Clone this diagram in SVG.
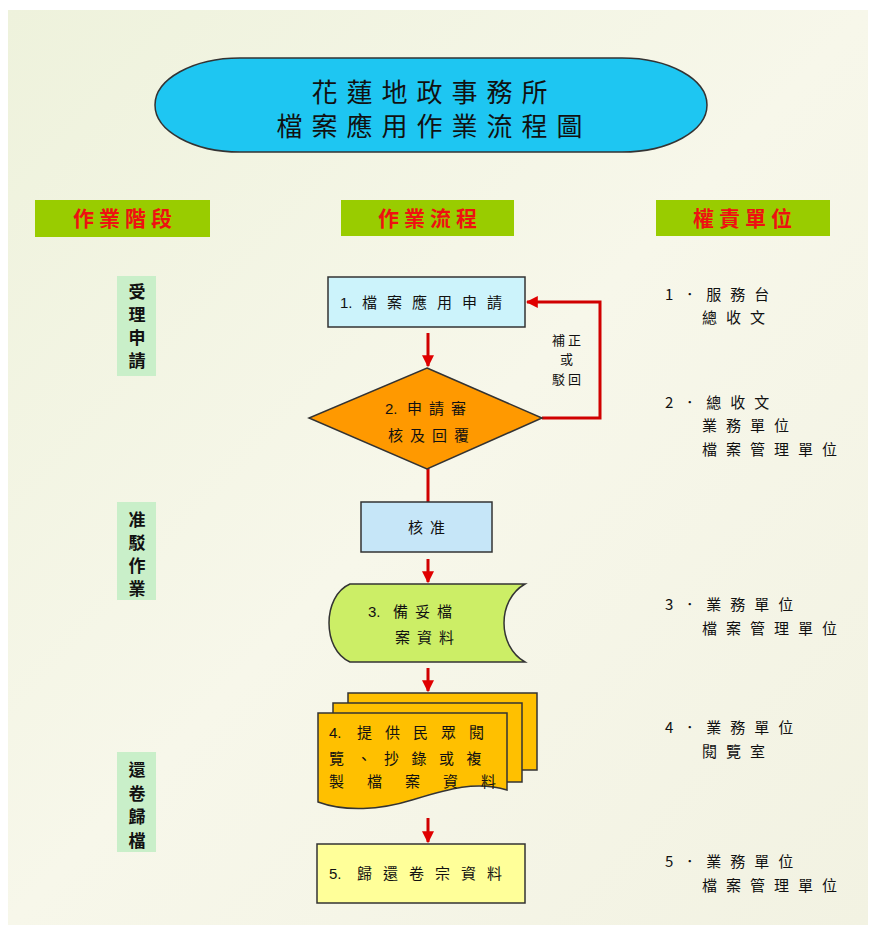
<svg xmlns="http://www.w3.org/2000/svg" width="875" height="935" viewBox="0 0 875 935">
<defs>
<linearGradient id="bg" x1="0" y1="0" x2="1" y2="1">
<stop offset="0" stop-color="#eef2dc"/>
<stop offset="0.5" stop-color="#f7f7ea"/>
<stop offset="1" stop-color="#f2f2e2"/>
</linearGradient>
<marker id="ah" viewBox="0 0 10 10" refX="9" refY="5" markerWidth="4" markerHeight="4" orient="auto" markerUnits="strokeWidth">
<path d="M0,0 L10,5 L0,10 Z" fill="#e00000"/>
</marker>
</defs>
<style>
.cjk{font-family:"Noto Sans CJK TC","Noto Sans CJK SC",sans-serif;}
.title{font-size:26px;fill:#111;letter-spacing:9px;text-anchor:middle;}
.hdr{font-size:21px;font-weight:bold;fill:#ee1111;letter-spacing:5px;text-anchor:middle;}
.stage{font-size:17px;font-weight:bold;fill:#111;text-anchor:middle;}
.lbl{font-size:15px;fill:#111;letter-spacing:7px;}
.num{font-size:15px;fill:#111;font-family:"Liberation Sans",sans-serif;}
.resp{font-size:15px;fill:#111;letter-spacing:9px;}
.shape{stroke:#333;stroke-width:1.5;}
.conn{stroke:#d00000;stroke-width:3;fill:none;}
.note{font-size:13px;fill:#111;letter-spacing:3px;text-anchor:middle;}
</style>
<rect x="0" y="0" width="875" height="935" fill="#ffffff"/>
<rect x="8" y="10" width="860" height="915" fill="url(#bg)"/>

<g id="title">
<rect class="shape" x="155" y="58" width="552" height="94" rx="85" ry="47" fill="#1ec6f2"/>
<text class="cjk title" x="434" y="102">花蓮地政事務所</text>
<text class="cjk title" x="434" y="136">檔案應用作業流程圖</text>
</g>

<g id="hdr-stage">
<rect x="35" y="200" width="175" height="37" fill="#99cc00"/>
<text class="cjk hdr" x="125" y="226">作業階段</text>
</g>
<g id="hdr-flow">
<rect x="341" y="200" width="173" height="36" fill="#99cc00"/>
<text class="cjk hdr" x="430" y="226">作業流程</text>
</g>
<g id="hdr-unit">
<rect x="656" y="200" width="174" height="36" fill="#99cc00"/>
<text class="cjk hdr" x="745" y="226">權責單位</text>
</g>

<g id="stage1">
<rect x="117" y="276" width="39" height="100" fill="#c9efc9"/>
<text class="cjk stage" x="137" y="298">受</text>
<text class="cjk stage" x="137" y="321">理</text>
<text class="cjk stage" x="137" y="344">申</text>
<text class="cjk stage" x="137" y="367">請</text>
</g>
<g id="stage2">
<rect x="117" y="502" width="39" height="98" fill="#c9efc9"/>
<text class="cjk stage" x="137" y="526">准</text>
<text class="cjk stage" x="137" y="549">駁</text>
<text class="cjk stage" x="137" y="572">作</text>
<text class="cjk stage" x="137" y="595">業</text>
</g>
<g id="stage3">
<rect x="117" y="752" width="39" height="100" fill="#c9efc9"/>
<text class="cjk stage" x="137" y="776">還</text>
<text class="cjk stage" x="137" y="800">卷</text>
<text class="cjk stage" x="137" y="823">歸</text>
<text class="cjk stage" x="137" y="847">檔</text>
</g>

<g id="connectors">
<line class="conn" x1="428" y1="333" x2="428" y2="366" marker-end="url(#ah)"/>
<polyline class="conn" points="542,418 600,418 600,302 527,302" marker-end="url(#ah)"/>
<line class="conn" x1="428" y1="468" x2="428" y2="502"/>
<line class="conn" x1="428" y1="559" x2="428" y2="582" marker-end="url(#ah)"/>
<line class="conn" x1="428" y1="668" x2="428" y2="691" marker-end="url(#ah)"/>
<line class="conn" x1="428" y1="818" x2="428" y2="842" marker-end="url(#ah)"/>
<text class="cjk note" x="568" y="345">補正</text>
<text class="cjk note" x="568" y="364">或</text>
<text class="cjk note" x="568" y="384">駁回</text>
</g>

<g id="n1">
<rect class="shape" x="328" y="277" width="197" height="50" fill="#ccf3fb"/>
<text class="num" x="340" y="308">1.</text>
<text class="cjk lbl" x="362" y="308" style="letter-spacing:10px">檔案應用申請</text>
</g>
<g id="n2">
<polygon class="shape" points="427,368 542,418 427,469 309,418" fill="#ff9900"/>
<text class="num" x="385" y="414">2.</text>
<text class="cjk lbl" x="407" y="414">申請審</text>
<text class="cjk lbl" x="388" y="441">核及回覆</text>
</g>
<g id="n-approve">
<rect class="shape" x="361" y="502" width="131" height="50" fill="#c6e6f8"/>
<text class="cjk lbl" x="430" y="533" text-anchor="middle">核准</text>
</g>
<g id="n3">
<path class="shape" d="M350,584 L525,584 C497,600 497,646 525,662 L350,662 C322,650 322,596 350,584 Z" fill="#ccee66"/>
<text class="num" x="368" y="617">3.</text>
<text class="cjk lbl" x="393" y="617">備妥檔</text>
<text class="cjk lbl" x="395" y="643">案資料</text>
</g>
<g id="n4">
<rect class="shape" x="348" y="693" width="189" height="77" fill="#ffc000"/>
<rect class="shape" x="333" y="703" width="189" height="79" fill="#ffc000"/>
<path class="shape" d="M318,713 H507 V790 C475,780 445,790 412,800 C380,810 345,812 318,802 Z" fill="#ffc000"/>
<text class="num" x="329" y="738">4.</text>
<text class="cjk lbl" x="357" y="738" style="letter-spacing:13px">提供民眾閱</text>
<text class="cjk lbl" x="329" y="764" style="letter-spacing:12.5px">覽、抄錄或複</text>
<text class="cjk lbl" x="329" y="787" style="letter-spacing:23px">製檔案資料</text>
</g>
<g id="n5">
<rect class="shape" x="317" y="844" width="208" height="59" fill="#ffff99"/>
<text class="num" x="329" y="879">5.</text>
<text class="cjk lbl" x="357" y="879" style="letter-spacing:11px">歸還卷宗資料</text>
</g>

<g id="unit1">
<text class="cjk resp" x="665" y="300">1．服務台</text>
<text class="cjk resp" x="702" y="323">總收文</text>
</g>
<g id="unit2">
<text class="cjk resp" x="665" y="408">2．總收文</text>
<text class="cjk resp" x="702" y="431">業務單位</text>
<text class="cjk resp" x="702" y="455">檔案管理單位</text>
</g>
<g id="unit3">
<text class="cjk resp" x="665" y="610">3．業務單位</text>
<text class="cjk resp" x="702" y="634">檔案管理單位</text>
</g>
<g id="unit4">
<text class="cjk resp" x="665" y="733">4．業務單位</text>
<text class="cjk resp" x="702" y="757">閱覽室</text>
</g>
<g id="unit5">
<text class="cjk resp" x="665" y="867">5．業務單位</text>
<text class="cjk resp" x="702" y="891">檔案管理單位</text>
</g>
</svg>
